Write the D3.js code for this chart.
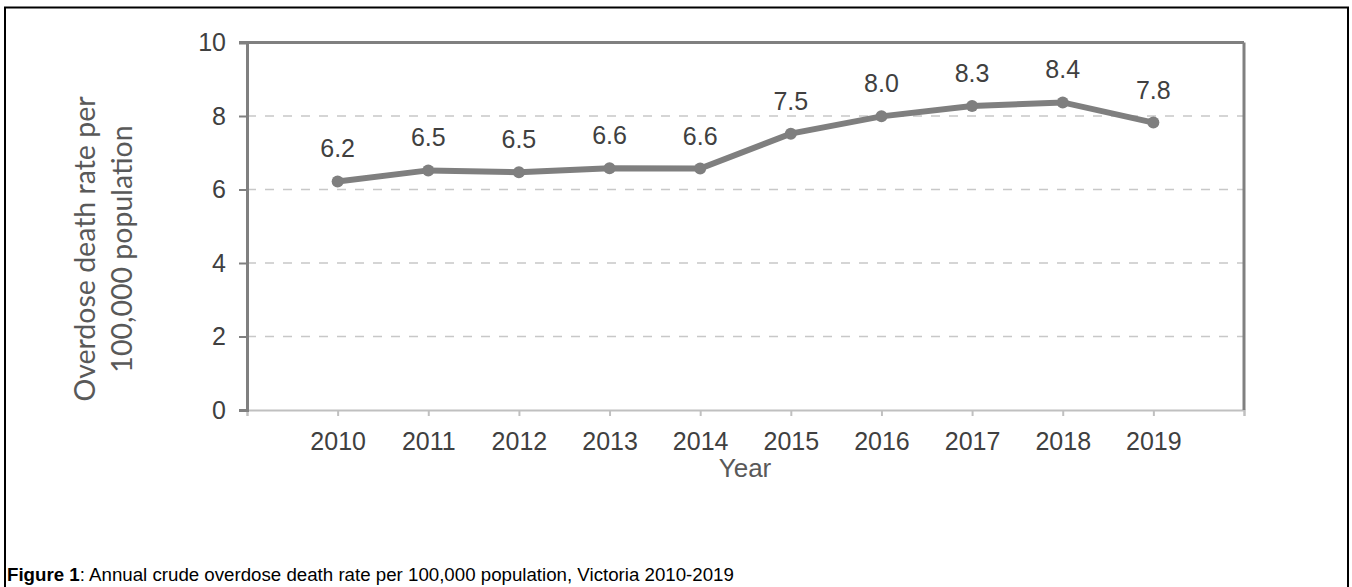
<!DOCTYPE html>
<html>
<head>
<meta charset="utf-8">
<script src="https://cdn.jsdelivr.net/npm/d3@7"></script>
<style>
  body { margin: 0; background: #fff; }
  svg { display: block; font-family: "Liberation Sans", Arial, sans-serif; }
</style>
</head>
<body>
<div id="chart"></div>
<script>
// chart data
var years = [2010, 2011, 2012, 2013, 2014, 2015, 2016, 2017, 2018, 2019];
var rates = [6.2, 6.5, 6.5, 6.6, 6.6, 7.5, 8.0, 8.3, 8.4, 7.8];
// values used for point positions
var plotted = [6.22, 6.52, 6.47, 6.58, 6.57, 7.52, 7.99, 8.27, 8.37, 7.82];
var yTicks = [0, 2, 4, 6, 8, 10];

var svgWidth = 1352;
var svgHeight = 587;

var margin = { top: 42.5, right: 108, bottom: 177, left: 247 };
var width = svgWidth - margin.left - margin.right;
var height = svgHeight - margin.top - margin.bottom;

var svg = d3.select("#chart")
  .append("svg")
  .attr("width", svgWidth)
  .attr("height", svgHeight);

// outer frame
svg.append("rect")
  .attr("x", 5).attr("y", 7.5)
  .attr("width", 1343).attr("height", 600)
  .attr("fill", "none")
  .attr("stroke", "#000")
  .attr("stroke-width", 2);

var chartGroup = svg.append("g")
  .attr("transform", `translate(${margin.left}, ${margin.top})`);

// x runs one year either side of the data
var xScale = d3.scaleLinear()
  .domain([2009, 2020])
  .range([0, width]);

var yScale = d3.scaleLinear()
  .domain([0, 10])
  .range([height, 0]);

// gridlines
chartGroup.selectAll(".grid")
  .data(yTicks.filter(d => d > 0 && d < 10))
  .enter()
  .append("line")
  .attr("x1", 0).attr("x2", width)
  .attr("y1", d => yScale(d)).attr("y2", d => yScale(d))
  .attr("stroke", "#c8c8c8")
  .attr("stroke-width", 1.3)
  .attr("stroke-dasharray", "9,9");

// x axis
var bottomAxis = d3.axisBottom(xScale)
  .tickValues(d3.range(2009, 2021))
  .tickSize(6)
  .tickFormat(d => years.includes(d) ? d : "");

var xAxis = chartGroup.append("g")
  .attr("transform", `translate(0, ${height})`)
  .call(bottomAxis);
xAxis.select(".domain").attr("stroke", "#c0c0c0").attr("stroke-width", 2);
xAxis.selectAll(".tick line").attr("stroke", "#c0c0c0").attr("stroke-width", 2);
xAxis.selectAll(".tick text")
  .attr("dy", 0).attr("y", 40)
  .attr("fill", "#404040")
  .style("font-size", "25px");

// y axis
var leftAxis = d3.axisLeft(yScale)
  .tickValues(yTicks)
  .tickSize(8)
  .tickPadding(13)
  .tickFormat(d3.format("d"));

var yAxis = chartGroup.append("g").call(leftAxis);
yAxis.select(".domain").attr("stroke", "#808080").attr("stroke-width", 3);
yAxis.selectAll(".tick line").attr("stroke", "#808080").attr("stroke-width", 2);
yAxis.selectAll(".tick text")
  .attr("fill", "#404040")
  .style("font-size", "25px");

// top and right frame of plot area
chartGroup.append("line")
  .attr("x1", -8).attr("x2", width)
  .attr("y1", 0).attr("y2", 0)
  .attr("stroke", "#808080").attr("stroke-width", 3);
chartGroup.append("line")
  .attr("x1", width).attr("x2", width)
  .attr("y1", 0).attr("y2", height)
  .attr("stroke", "#808080").attr("stroke-width", 3);

// line
var line = d3.line()
  .x((d, i) => xScale(years[i]))
  .y(d => yScale(d));

chartGroup.append("path")
  .datum(plotted)
  .attr("d", line)
  .attr("fill", "none")
  .attr("stroke", "#7f7f7f")
  .attr("stroke-width", 6);

chartGroup.selectAll(".dot")
  .data(plotted)
  .enter()
  .append("circle")
  .attr("cx", (d, i) => xScale(years[i]))
  .attr("cy", d => yScale(d))
  .attr("r", 6)
  .attr("fill", "#7f7f7f");

// data labels
chartGroup.selectAll(".lbl")
  .data(plotted)
  .enter()
  .append("text")
  .attr("x", (d, i) => xScale(years[i]))
  .attr("y", d => yScale(d) - 24)
  .attr("text-anchor", "middle")
  .attr("fill", "#404040")
  .style("font-size", "25px")
  .text((d, i) => rates[i].toFixed(1));

// axis titles
var yTitle = svg.append("text")
  .attr("transform", "translate(95, 249) rotate(-90)")
  .attr("text-anchor", "middle")
  .attr("fill", "#595959")
  .style("font-family", "Lato, sans-serif")
  .style("font-size", "28.5px");
yTitle.append("tspan").attr("x", 0).attr("dy", 0).text("Overdose death rate per");
yTitle.append("tspan").attr("x", 0).attr("dy", 37).text("100,000 population");

svg.append("text")
  .attr("x", 745)
  .attr("y", 477)
  .attr("text-anchor", "middle")
  .attr("fill", "#595959")
  .style("font-size", "26px")
  .text("Year");

// caption
var caption = svg.append("text")
  .attr("x", 7)
  .attr("y", 581)
  .attr("fill", "#000")
  .style("font-size", "18.7px");
caption.append("tspan").attr("font-weight", "bold").text("Figure 1");
caption.append("tspan").text(": Annual crude overdose death rate per 100,000 population, Victoria 2010-2019");
</script>
</body>
</html>
